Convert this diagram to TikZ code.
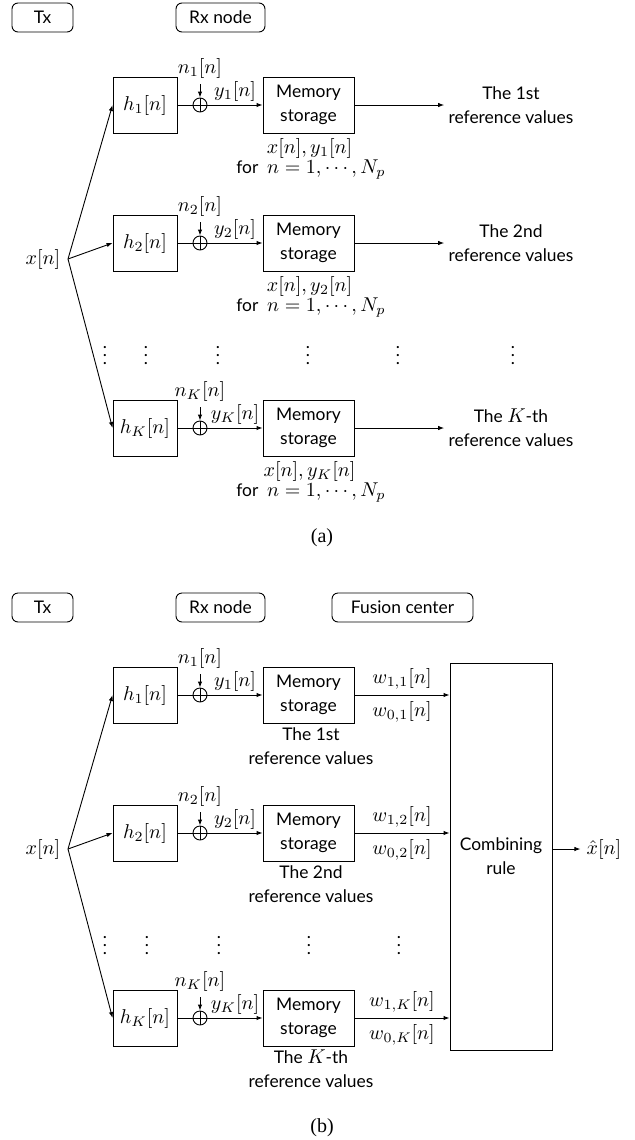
\documentclass[tikz,border=0pt]{standalone}
\usepackage{fontspec}
\setmainfont{Lato}[Scale=0.87]
\newfontfamily\capfont{Liberation Serif}
\usetikzlibrary{arrows.meta}

\begin{document}
\begin{tikzpicture}[
    x=0.5pt,
    y=-0.5pt,
    line width=0.45pt,
    >={Latex[length=3pt,width=2.2pt]},
    block/.style={
        draw,
        minimum width=32pt,
        minimum height=28pt,
        inner sep=1pt
    },
    memory/.style={
        draw,
        minimum width=45.5pt,
        minimum height=28pt,
        align=center,
        inner sep=1pt
    },
    adder/.style={
        draw,
        circle,
        minimum size=7pt,
        inner sep=0pt,
        path picture={
            \draw (path picture bounding box.north) -- (path picture bounding box.south);
            \draw (path picture bounding box.west) -- (path picture bounding box.east);
        }
    },
    tag/.style={
        draw,
        rounded corners=3pt,
        minimum height=14.5pt,
        inner sep=0pt
    },
    twoline/.style={
        align=center,
        inner sep=2pt
    }
]

\useasboundingbox (0,0) rectangle (634,1140);

% -------------------------------------------------
% (a) каждый приёмник хранит свои опорные значения
% -------------------------------------------------

\node[tag, minimum width=30.5pt] (txa) at (42.5,17.5) {Tx};
\node[tag, minimum width=44.5pt] (rxa) at (220.5,17.5) {Rx node};

% источник и точка ветвления
\node (srca) at (43,259) {$x[n]$};
\coordinate (fana) at (68,259);

\foreach \k/\yy/\ord in {1/105/The 1st, 2/243/The 2nd, K/428/The $K$-th} {
    \node[block] (ha\k) at (145,\yy) {$h_{\k}[n]$};
    \node[adder] (sa\k) at (200,\yy) {};
    \node (nza\k) at (200,\yy-37) {$n_{\k}[n]$};
    \node[memory] (ma\k) at (308.5,\yy) {Memory\\storage};
    \node[twoline] (ra\k) at (511,\yy) {\ord\\reference values};
    \node (pa\k) at (309.5,\yy+43) {$x[n],y_{\k}[n]$};
    \node (fa\k) at (311,\yy+65) {for\ \ $n=1,\cdots,N_p$};

    \draw[->] (fana) -- (ha\k.west);
    \draw (ha\k) -- (sa\k);
    \draw[->] (nza\k) -- (sa\k);
    \draw[->] (sa\k) -- node[above, inner sep=1.5pt] {$y_{\k}[n]$} (ma\k);
    \draw[->] (ma\k) -- (ra\k);
}

% многоточия между строками
\foreach \xx in {105,146,218,308,398,513}
    \node (dta\xx) at (\xx,350) {$\vdots$};

\node[font=\capfont] (capa) at (322,538) {(a)};

% -------------------------------------------------
% (b) опорные значения сводятся в центре слияния
% -------------------------------------------------

\node[tag, minimum width=30.5pt] (txb) at (42.5,607.5) {Tx};
\node[tag, minimum width=44.5pt] (rxb) at (220.5,607.5) {Rx node};
\node[tag, minimum width=70.5pt] (fcb) at (402.5,607.5) {Fusion center};

\node (srcb) at (43,849) {$x[n]$};
\coordinate (fanb) at (68,849);

% правило объединения
\node[draw, minimum width=51pt, minimum height=193.5pt, align=center]
    (comb) at (501,856.5) {Combining\\rule};
\node (xhat) at (604,849) {$\hat{x}[n]$};
\draw[->] (comb.east |- xhat) -- (xhat);

\foreach \k/\yy/\ord in {1/695/The 1st, 2/833/The 2nd, K/1018/The $K$-th} {
    \node[block] (hb\k) at (145,\yy) {$h_{\k}[n]$};
    \node[adder] (sb\k) at (200,\yy) {};
    \node (nzb\k) at (200,\yy-37) {$n_{\k}[n]$};
    \node[memory] (mb\k) at (308.5,\yy) {Memory\\storage};
    \node[twoline] (rb\k) at (311,\yy+51) {\ord\\reference values};

    \draw[->] (fanb) -- (hb\k.west);
    \draw (hb\k) -- (sb\k);
    \draw[->] (nzb\k) -- (sb\k);
    \draw[->] (sb\k) -- node[above, inner sep=1.5pt] {$y_{\k}[n]$} (mb\k);
    \draw[->] (mb\k) -- (mb\k -| comb.west)
        node[midway, above] {$w_{1,\k}[n]$}
        node[midway, below] {$w_{0,\k}[n]$};
}

\foreach \xx in {105,147,219,309,399}
    \node (dtb\xx) at (\xx,940) {$\vdots$};

\node[font=\capfont] (capb) at (322,1128) {(b)};

\end{tikzpicture}
\end{document}
